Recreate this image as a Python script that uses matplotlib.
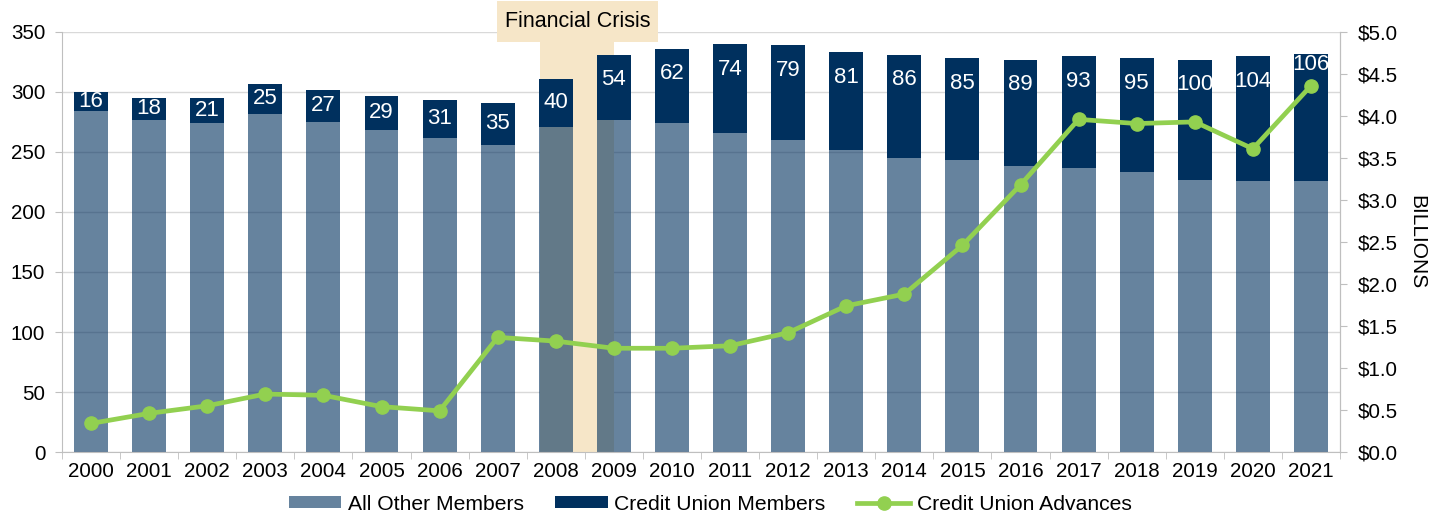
import matplotlib
matplotlib.use("Agg")
import matplotlib.pyplot as plt
from matplotlib.patches import Rectangle
from matplotlib.lines import Line2D
from matplotlib.ticker import FuncFormatter, MultipleLocator, FixedLocator
import matplotlib.transforms as mtransforms
import numpy as np

plt.rcParams['font.family'] = ['Liberation Sans', 'DejaVu Sans']

years = [str(y) for y in range(2000, 2022)]
other_members = [284, 277, 274, 282, 275, 268, 262, 256, 271, 277, 274, 266,
                 260, 252, 245, 243, 238, 237, 233, 227, 226, 226]
cu_members = [16, 18, 21, 25, 27, 29, 31, 35, 40, 54, 62, 74,
              79, 81, 86, 85, 89, 93, 95, 100, 104, 106]
cu_advances = [0.34, 0.46, 0.55, 0.69, 0.675, 0.54, 0.49, 1.365, 1.32, 1.235, 1.235, 1.265,
               1.42, 1.74, 1.88, 2.46, 3.18, 3.96, 3.91, 3.93, 3.61, 4.36]
crisis_label = "Financial Crisis"

NAVY = "#00305E"
GREEN = "#92D050"
TAN = "#F6E6C8"
GRID = "#D9D9D9"
SPINE = "#BFBFBF"

fig = plt.figure(figsize=(14.46, 5.17), dpi=100)
ax = fig.add_axes([62/1446, 1-452/517, (1340-62)/1446, 420/517])
x = np.arange(len(years))

ax.set_xlim(-0.5, len(years) - 0.5)
ax.set_ylim(0, 350)
ax.yaxis.set_major_locator(MultipleLocator(50))
ax.grid(axis='y', color=GRID, linewidth=1, zorder=0)
ax.set_axisbelow(True)

# crisis band
ax.axvspan(7.72, 9.0, color=TAN, zorder=1, linewidth=0)

w = 0.585
ax.bar(x, other_members, width=w, color=NAVY, alpha=0.6, zorder=2, linewidth=0)
ax.bar(x, cu_members, width=w, bottom=other_members, color=NAVY, zorder=2, linewidth=0)

label_nudge = {21: 12}
for i, (o, c) in enumerate(zip(other_members, cu_members)):
    top = o + c
    y = top - min(c / 2, 21) + label_nudge.get(i, 0)
    ax.text(i, y, str(c), ha='center', va='center', color='white', fontsize=16, zorder=5)

ax.spines['top'].set_visible(False)
for s in ['left', 'bottom', 'right']:
    ax.spines[s].set_color(SPINE)

ax.set_xticks(x)
ax.set_xticklabels(years)
ax.xaxis.set_minor_locator(FixedLocator(np.arange(-0.5, len(years), 1)))
ax.tick_params(axis='x', which='major', length=0, pad=7, labelsize=14.8)
ax.tick_params(axis='x', which='minor', length=5, color=SPINE)
ax.tick_params(axis='y', length=5, color=SPINE, pad=7, labelsize=14.8)

ax2 = ax.twinx()
ax2.set_ylim(0, 5.0)
ax2.yaxis.set_major_locator(MultipleLocator(0.5))
ax2.yaxis.set_major_formatter(FuncFormatter(lambda v, p: f"${v:.1f}"))
ax2.tick_params(axis='y', length=5, color=SPINE, pad=8, labelsize=14.8)
for s in ['top', 'left', 'bottom']:
    ax2.spines[s].set_visible(False)
ax2.spines['right'].set_color(SPINE)
ax2.plot(x, cu_advances, color=GREEN, linewidth=3.4, marker='o', markersize=9.5, zorder=4)
ax2.set_ylabel("BILLIONS", rotation=270, fontsize=15, labelpad=20)

# Financial crisis label box
trans = mtransforms.blended_transform_factory(ax2.transData, ax2.transAxes)
y0 = (452 - 42) / 420
y1 = (452 - 1) / 420
ax2.add_patch(Rectangle((6.99, y0), 9.76 - 6.99, y1 - y0, transform=trans,
                        facecolor=TAN, edgecolor='none', clip_on=False, zorder=6))
ax2.text((6.99 + 9.76) / 2, (y0 + y1) / 2, crisis_label, transform=trans,
         ha='center', va='center', fontsize=15.5, zorder=7, clip_on=False)

handles = [Rectangle((0, 0), 1, 1, facecolor=NAVY, alpha=0.6, linewidth=0),
           Rectangle((0, 0), 1, 1, facecolor=NAVY, linewidth=0),
           Line2D([], [], color=GREEN, linewidth=3.4, marker='o', markersize=9.5)]
fig.legend(handles, ["All Other Members", "Credit Union Members", "Credit Union Advances"],
           loc='center', bbox_to_anchor=(0.491, 0.025), ncol=3, frameon=False,
           fontsize=15.2, handlelength=2.5, handletextpad=0.3, columnspacing=1.5,
           handleheight=0.55)

fig.savefig("out.png", dpi=100)
